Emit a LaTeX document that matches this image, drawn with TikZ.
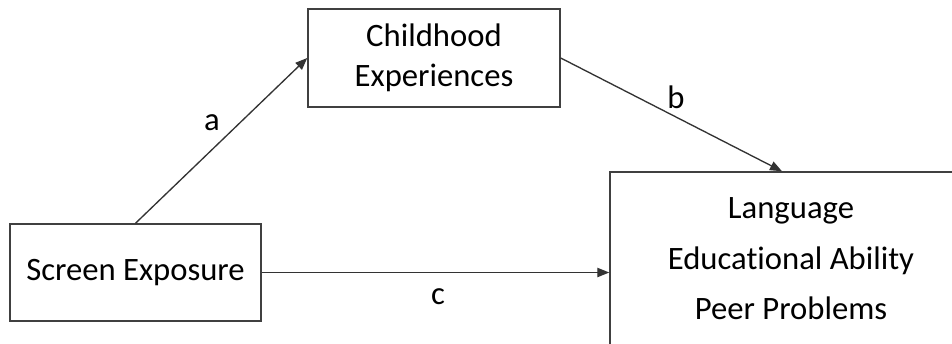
\documentclass[tikz,border=0pt]{standalone}
\usepackage{fontspec}
\setmainfont{Carlito}[Ligatures={NoCommon}]
\usetikzlibrary{arrows.meta}

\tikzset{
  box/.style={draw=black!75, line width=1.1pt, rectangle, inner sep=0pt, align=center,
    font=\fontsize{24.5}{30}\selectfont},
  arr/.style={draw=black!80, line width=1pt, -{Triangle[length=9pt,width=7pt]}},
  lbl/.style={font=\fontsize{24.5}{28}\selectfont, inner sep=0pt}
}

\begin{document}
\begin{tikzpicture}[x=0.75pt,y=-0.75pt]
			%%%%% START %%%%%
			\clip (0, 0) rectangle (952, 343);
			
			\node[box, minimum width=251*0.75pt, minimum height=97*0.75pt] (screen) at (135.5, 272.5) {Screen Exposure};
			\node[box, minimum width=252*0.75pt, minimum height=98*0.75pt] (child) at (434, 58) {Childhood\\Experiences};
			\node[box, minimum width=362*0.75pt, minimum height=184*0.75pt, text depth=8pt,
			      font=\fontsize{24.5}{38}\selectfont] (outcome) at (791, 264) {Language\\Educational Ability\\Peer Problems};
			
			\draw[arr] (screen.north) -- (child.west);
			\draw[arr] (child.east) -- (outcome.north -| 782, 0);
			\draw[arr] (screen.east) -- (screen.east -| outcome.west);
			
			\node[lbl] (la) at (212, 123) {a};
			\node[lbl] (lb) at (676, 97) {b};
			\node[lbl] (lc) at (438, 297) {c};
			
			%%%%% END %%%%%
		\end{tikzpicture}
\end{document}
